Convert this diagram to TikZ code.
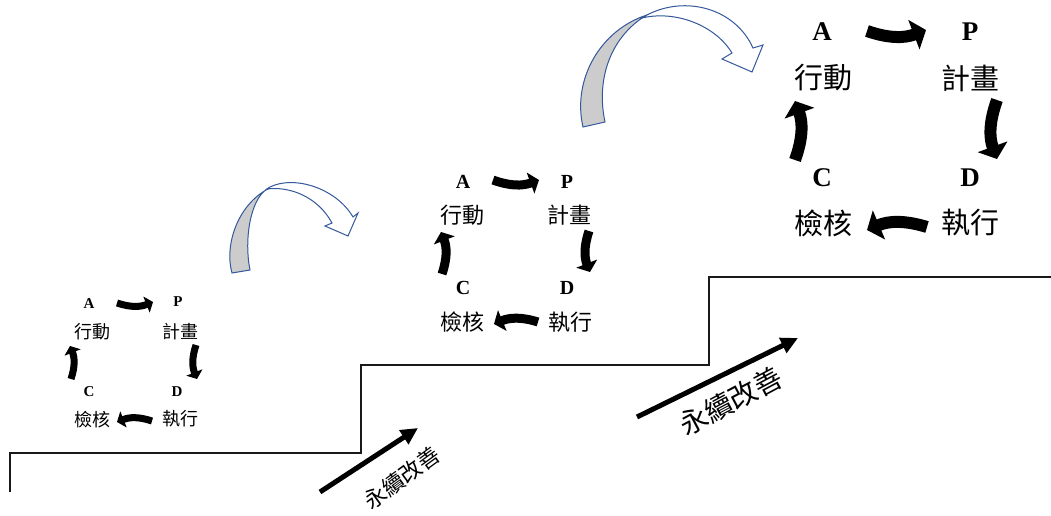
\documentclass[tikz,border=0pt]{standalone}
\usepackage{fontspec}
\setmainfont{Liberation Serif}
\newfontfamily\cjk{Noto Sans CJK TC}
\usetikzlibrary{arrows.meta}
\definecolor{outlineblue}{RGB}{52,88,156}
\definecolor{backgray}{RGB}{204,204,204}
\begin{document}
\begin{tikzpicture}[x=1pt,y=-1pt,
  lbl/.style={inner sep=0pt, font=\fontsize{#1}{#1}\selectfont\bfseries},
  cjkl/.style={inner sep=0pt, font=\cjk\fontsize{#1}{#1}\selectfont},
  cycS/.style={line width=7pt, -{Triangle[length=7pt,width=17pt]}},
  cycM/.style={line width=9pt, -{Triangle[length=9pt,width=22pt]}},
  cycL/.style={line width=12pt, -{Triangle[length=13pt,width=31pt]}},
  growarrow/.style={line width=5pt, -{Triangle[length=17pt,width=16pt]}},
  curvedarrow/.style={draw=outlineblue, line width=1pt, line join=miter},
  stair/.style={line width=2pt, draw=black!90}]
\useasboundingbox (0,0) rectangle (1051,516);

% stair line
\coordinate (s0) at (10,492);
\coordinate (s1) at (10,453);
\coordinate (s2) at (361,453);
\coordinate (s3) at (361,365);
\coordinate (s4) at (709,365);
\coordinate (s5) at (709,277);
\coordinate (s6) at (1051,277);
\draw[stair] (s0) -- (s1) -- (s2) -- (s3) -- (s4) -- (s5) -- (s6);

% small cycle
\node[lbl=15] (A1) at (89,304) {A};
\node[lbl=15] (P1) at (178,302) {P};
\node[cjkl=18] (act1) at (92,332) {行動};
\node[cjkl=18] (plan1) at (180,332) {計畫};
\node[lbl=15] (C1) at (89,392) {C};
\node[lbl=15] (D1) at (177,392) {D};
\node[cjkl=18] (chk1) at (92,420) {檢核};
\node[cjkl=18] (do1) at (180,419) {執行};
\coordinate (t1s) at (117,303); \coordinate (t1e) at (153,302);
\coordinate (r1s) at (196,345); \coordinate (r1e) at (197,379);
\coordinate (b1s) at (152,421); \coordinate (b1e) at (117,422);
\coordinate (l1s) at (71,379);  \coordinate (l1e) at (70,346);
\draw[cycS] (t1s) to[bend right=20] (t1e);
\draw[cycS] (r1s) to[bend right=20] (r1e);
\draw[cycS] (b1s) to[bend right=20] (b1e);
\draw[cycS] (l1s) to[bend right=20] (l1e);

% medium cycle
\node[lbl=20] (A2) at (463,182) {A};
\node[lbl=20] (P2) at (567,182) {P};
\node[cjkl=22] (act2) at (462,215) {行動};
\node[cjkl=22] (plan2) at (569,215) {計畫};
\node[lbl=20] (C2) at (463,288) {C};
\node[lbl=20] (D2) at (567,288) {D};
\node[cjkl=22] (chk2) at (462,322) {檢核};
\node[cjkl=22] (do2) at (570,322) {執行};
\coordinate (t2s) at (493,180); \coordinate (t2e) at (539,180);
\coordinate (r2s) at (589,231); \coordinate (r2e) at (590,272);
\coordinate (b2s) at (538,322); \coordinate (b2e) at (494,324);
\coordinate (l2s) at (442,274); \coordinate (l2e) at (441,232);
\draw[cycM] (t2s) to[bend right=20] (t2e);
\draw[cycM] (r2s) to[bend right=20] (r2e);
\draw[cycM] (b2s) to[bend right=20] (b2e);
\draw[cycM] (l2s) to[bend right=20] (l2e);

% large cycle
\node[lbl=27] (A3) at (822,32) {A};
\node[lbl=27] (P3) at (970,32) {P};
\node[cjkl=29] (act3) at (823,78) {行動};
\node[cjkl=29] (plan3) at (970,78) {計畫};
\node[lbl=27] (C3) at (822,178) {C};
\node[lbl=27] (D3) at (970,178) {D};
\node[cjkl=29] (chk3) at (823,223) {檢核};
\node[cjkl=29] (do3) at (970,223) {執行};
\coordinate (t3s) at (867,31);  \coordinate (t3e) at (926,30);
\coordinate (r3s) at (997,100); \coordinate (r3e) at (997,159);
\coordinate (b3s) at (927,227); \coordinate (b3e) at (867,230);
\coordinate (l3s) at (795,160); \coordinate (l3e) at (795,101);
\draw[cycL] (t3s) to[bend right=20] (t3e);
\draw[cycL] (r3s) to[bend right=20] (r3e);
\draw[cycL] (b3s) to[bend right=20] (b3e);
\draw[cycL] (l3s) to[bend right=20] (l3e);

% curved transition arrow 1
\filldraw[curvedarrow, fill=backgray] (232,273) .. controls (224,245) and (238,202) .. (272,187)
  -- (267,189) .. controls (250,200) and (244,240) .. (250,270) -- cycle;
\filldraw[curvedarrow, fill=white] (270,187) .. controls (294,175) and (336,188) .. (353,217)
  -- (358,213) -- (348,236) -- (325,226) -- (332,223)
  .. controls (318,197) and (290,186) .. (267,189) -- cycle;

% curved transition arrow 2
\filldraw[curvedarrow, fill=backgray] (583,127) .. controls (572,80) and (600,30) .. (647,15)
  -- (642,18) .. controls (610,40) and (596,80) .. (605,122) -- cycle;
\filldraw[curvedarrow, fill=white] (647,15) .. controls (685,-5) and (735,8) .. (753,48)
  -- (763,45) -- (752,72) -- (722,59) -- (732,53)
  .. controls (715,25) and (675,10) .. (642,18) -- cycle;

% continuous improvement arrows
\coordinate (g1s) at (320,492); \coordinate (g1e) at (418,428);
\draw[growarrow] (g1s) -- (g1e);
\node[cjkl=22, rotate=36] (txt1) at (402,478) {永續改善};
\coordinate (g2s) at (637,417); \coordinate (g2e) at (798,338);
\draw[growarrow] (g2s) -- (g2e);
\node[cjkl=28, rotate=28] (txt2) at (731,401) {永續改善};
\end{tikzpicture}
\end{document}
